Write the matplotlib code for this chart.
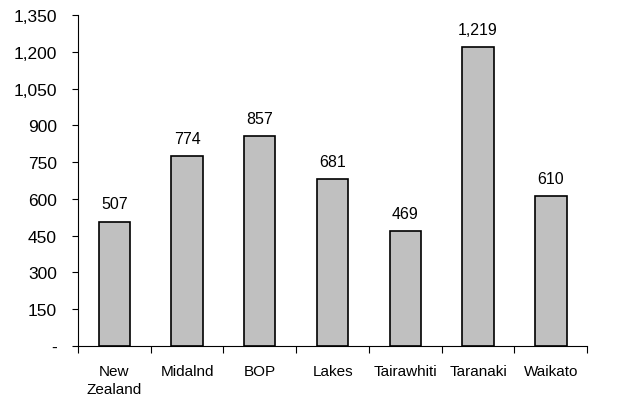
import matplotlib
matplotlib.use("Agg")
import matplotlib.pyplot as plt
import numpy as np
from matplotlib.ticker import FuncFormatter, FixedLocator

regions = ["New\nZealand", "Midalnd", "BOP", "Lakes", "Tairawhiti", "Taranaki", "Waikato"]
values = [507, 774, 857, 681, 469, 1219, 610]
y_ticks = list(range(0, 1351, 150))

plt.rcParams["font.family"] = ["Liberation Sans", "DejaVu Sans"]

fig = plt.figure(figsize=(6.39, 4.02), dpi=100)
ax = fig.add_axes([0.122, 0.137, 0.797, 0.823])

x = np.arange(len(regions))
ax.bar(x, values, width=0.43, color="#c0c0c0", edgecolor="black", linewidth=1.2, zorder=2)

# value labels sit a fixed distance above each bar
for xi, v in zip(x, values):
    ax.annotate(f"{v:,}", (xi, v), xytext=(0, 9.5), textcoords="offset points",
                ha="center", va="baseline", fontsize=11.5)

ax.set_xlim(-0.5, len(regions) - 0.5)
ax.set_ylim(0, 1350)
ax.set_yticks(y_ticks)
ax.yaxis.set_major_formatter(FuncFormatter(lambda v, p: "-" if v == 0 else f"{int(v):,}"))
ax.tick_params(axis="y", labelsize=12.5, length=4, width=0.8, pad=11)

# category labels in the middle, tick marks on the boundaries
ax.xaxis.set_major_locator(FixedLocator(np.arange(len(regions) + 1) - 0.5))
ax.xaxis.set_major_formatter(FuncFormatter(lambda v, p: ""))
ax.xaxis.set_minor_locator(FixedLocator(x))
ax.set_xticklabels(regions, minor=True, fontsize=11, va="top", linespacing=1.35)
ax.tick_params(axis="x", which="major", length=5, width=0.8)
ax.tick_params(axis="x", which="minor", length=0, pad=13)

for side in ["top", "right"]:
    ax.spines[side].set_visible(False)
for side in ["left", "bottom"]:
    ax.spines[side].set_linewidth(0.8)

fig.savefig("out.png", dpi=100)
